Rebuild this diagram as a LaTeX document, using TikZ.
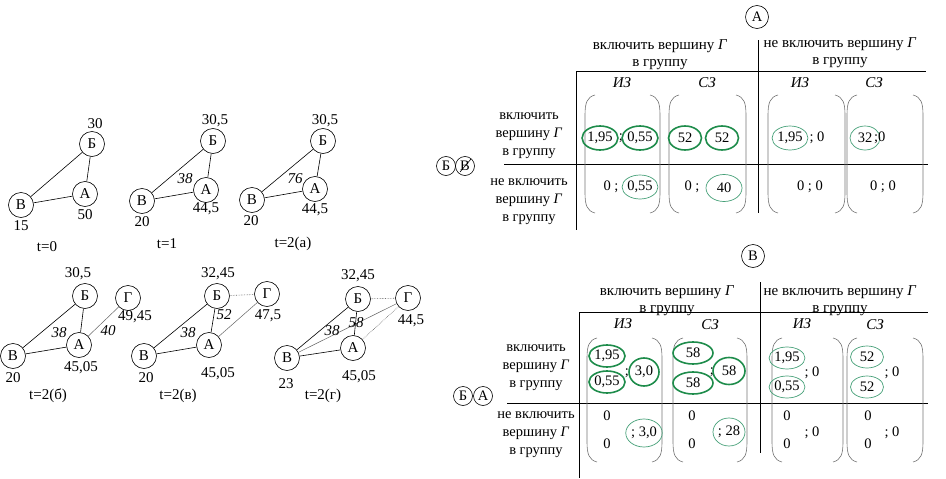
\documentclass[tikz,border=0pt]{standalone}
\usepackage{fontspec}
\setmainfont{Liberation Serif}
\usetikzlibrary{shapes.geometric}
\definecolor{gk}{RGB}{30,140,75}
\definecolor{gt}{RGB}{70,160,120}
\newcommand{\pbrk}[4]{%
  \draw[brk] ({#1+10},#3) .. controls ({#1+2},{#3+2}) and (#1,{#3+8}) .. (#1,{#3+20}) -- (#1,{#4-20}) .. controls (#1,{#4-8}) and ({#1+2},{#4-2}) .. ({#1+10},#4);
  \draw[brk] ({#2-10},#3) .. controls ({#2-2},{#3+2}) and (#2,{#3+8}) .. (#2,{#3+20}) -- (#2,{#4-20}) .. controls (#2,{#4-8}) and ({#2-2},{#4-2}) .. ({#2-10},#4);
}
\begin{document}
\begin{tikzpicture}[x=1pt,y=-1pt,
  every node/.style={font=\fontsize{14.5}{17}\selectfont, inner sep=0pt},
  gn/.style={font=\fontsize{15}{17}\selectfont},
  gv/.style={circle,draw,line width=0.6pt,minimum size=25pt,inner sep=0pt,font=\fontsize{15}{17}\selectfont},
  sv/.style={circle,draw,line width=0.6pt,minimum size=19pt,inner sep=0pt},
  ed/.style={line width=0.6pt},
  ed2/.style={line width=0.5pt,black!60},
  edd/.style={line width=0.6pt,black!60,densely dotted},
  el/.style={font=\itshape\fontsize{15}{17}\selectfont},
  rl/.style={align=center,font=\fontsize{14.5}{18}\selectfont},
  hl/.style={align=center,font=\fontsize{15}{17}\selectfont},
  ek/.style={ellipse,draw=gk,line width=1.6pt,minimum width=33pt,minimum height=24pt,inner sep=0pt},
  et/.style={ellipse,draw=gt,line width=0.7pt,minimum width=33pt,minimum height=24pt,inner sep=0pt},
  brk/.style={draw=black!55,line width=0.6pt},
  ml/.style={line width=0.8pt}
]
\useasboundingbox (0,0) rectangle (946,479);

% ---------- t=0
\node[gv] (b0) at (92,144) {Б};
\node[gv] (a0) at (85,194) {А};
\node[gv] (v0) at (21,205) {В};
\draw[ed] (b0) -- (a0); \draw[ed] (b0) -- (v0); \draw[ed] (v0) -- (a0);
\node[gn] (b0l) at (95,124) {30};
\node[gn] (a0l) at (85,215) {50};
\node[gn] (v0l) at (21,226) {15};
\node[gn] (t0) at (47,247) {t=0};

% ---------- t=1
\node[gv] (b1) at (213,141) {Б};
\node[gv] (a1) at (206,190) {А};
\node[gv] (v1) at (142,201) {В};
\draw[ed] (b1) -- (a1); \draw[ed] (b1) -- (v1); \draw[ed] (v1) -- (a1);
\node[gn] (b1l) at (215,121) {30,5};
\node[el] (e1) at (185,179) {38};
\node[gn] (a1l) at (206,209) {44,5};
\node[gn] (v1l) at (142,222) {20};
\node[gn] (t1) at (167,244) {t=1};

% ---------- t=2(a)
\node[gv] (b2) at (323,141) {Б};
\node[gv] (a2) at (315,189) {А};
\node[gv] (v2) at (252,200) {В};
\draw[ed] (b2) -- (a2); \draw[ed] (b2) -- (v2); \draw[ed] (v2) -- (a2);
\node[gn] (b2l) at (325,121) {30,5};
\node[el] (e2) at (295,179) {76};
\node[gn] (a2l) at (315,210) {44,5};
\node[gn] (v2l) at (251,221) {20};
\node[gn] (t2) at (293,244) {t=2(а)};

% ---------- t=2(б)
\node[gv] (b3) at (85,296) {Б};
\node[gv] (g3) at (128,298) {Г};
\node[gv] (a3) at (79,345) {А};
\node[gv] (v3) at (13,356) {В};
\draw[ed] (b3) -- (a3); \draw[ed] (b3) -- (v3); \draw[ed] (v3) -- (a3);
\draw[ed2] (a3) -- (g3);
\node[gn] (b3l) at (78,274) {30,5};
\node[gn] (g3l) at (135,317) {49,45};
\node[el] (e3) at (59,333) {38};
\node[el] (e3b) at (108,331) {40};
\node[gn] (a3l) at (81,368) {45,05};
\node[gn] (v3l) at (13,378) {20};
\node[gn] (t3) at (48,396) {t=2(б)};

% ---------- t=2(в)
\node[gv] (b4) at (217,296) {Б};
\node[gv] (g4) at (267,294) {Г};
\node[gv] (a4) at (209,345) {А};
\node[gv] (v4) at (144,356) {В};
\draw[ed] (b4) -- (a4); \draw[ed] (b4) -- (v4); \draw[ed] (v4) -- (a4);
\draw[edd] (b4) -- (g4); \draw[ed2] (a4) -- (g4);
\node[gn] (b4l) at (218,274) {32,45};
\node[gn] (g4l) at (268,316) {47,5};
\node[el] (e4b) at (224,315) {52};
\node[el] (e4) at (188,333) {38};
\node[gn] (a4l) at (218,374) {45,05};
\node[gn] (v4l) at (146,378) {20};
\node[gn] (t4) at (178,396) {t=2(в)};

% ---------- t=2(г)
\node[gv] (b5) at (358,299) {Б};
\node[gv] (g5) at (408,298) {Г};
\node[gv] (a5) at (353,348) {А};
\node[gv] (v5) at (287,358) {В};
\draw[ed] (b5) -- (a5); \draw[ed] (b5) -- (v5); \draw[ed] (v5) -- (a5);
\draw[edd] (b5) -- (g5); \draw[edd] (a5) -- (g5); \draw[ed2] (v5) -- (g5);
\node[gn] (b5l) at (358,276) {32,45};
\node[gn] (g5l) at (411,321) {44,5};
\node[el] (e5b) at (356,323) {58};
\node[el] (e5) at (332,331) {38};
\node[gn] (a5l) at (359,377) {45,05};
\node[gn] (v5l) at (286,384) {23};
\node[gn] (t5) at (323,396) {t=2(г)};

% ================= top matrix
\node[sv,minimum size=23pt] (mA) at (757,17) {А};
\node[hl] (h1) at (660,55) {включить вершину \textit{Г}\\в группу};
\node[hl] (h2) at (840,53) {не включить вершину \textit{Г}\\в группу};
\draw[ml] (758,40) -- (758,213);
\draw[ml] (576,71) -- (926,71);
\draw[ml] (576,71) -- (576,230);
\draw[ml] (504,164) -- (928,164);
\node[el] (c1) at (622,83) {ИЗ};
\node[el] (c2) at (707,83) {СЗ};
\node[el] (c3) at (800,83) {ИЗ};
\node[el] (c4) at (874,83) {СЗ};
\node[rl] (r1) at (529,136) {включить\\вершину \textit{Г}\\в группу};
\node[rl] (r2) at (529,202) {не включить\\вершину \textit{Г}\\в группу};
\node[sv] (s1) at (446,166) {Б};
\node[sv] (s2) at (465,166) {В};
\draw[line width=0.6pt] ([shift={(-5,6)}]s2.center) -- ([shift={(6,-7)}]s2.center);
\pbrk{585}{660}{95}{213}
\pbrk{669}{746}{95}{213}
\pbrk{768}{845}{95}{213}
\pbrk{847}{923}{95}{213}
% row 1
\node[ek] (x1) at (600,138) {1,95};
\node (x2) at (621,138) {;};
\node[ek] (x3) at (640,138) {0,55};
\node[ek] (x4) at (685,138) {52};
\node[ek] (x5) at (722,138) {52};
\node[et] (x6) at (790,138) {1,95};
\node (x7) at (817,138) {; 0};
\node[et,minimum width=30pt] (x8) at (865,138) {32};
\node[anchor=west] (x9) at (874,138) {;0};
% row 2
\node (y1) at (611,187) {0 ;};
\node[et] (y2) at (640,187) {0,55};
\node (y3) at (692,187) {0 ;};
\node[et,minimum width=36pt,minimum height=27pt] (y4) at (724,188) {40};
\node (y5) at (810,187) {0 ; 0};
\node (y6) at (883,187) {0 ; 0};

% ================= bottom matrix
\node[sv,minimum size=23pt] (mB) at (753,256) {В};
\node[hl] (h3) at (667,301) {включить вершину \textit{Г}\\в группу};
\node[hl] (h4) at (840,301) {не включить вершину \textit{Г}\\в группу};
\draw[ml] (760,282) -- (760,453);
\draw[ml] (579,312) -- (928,312);
\draw[ml] (579,312) -- (579,478);
\draw[ml] (507,403) -- (928,403);
\node[el] (d1) at (623,324) {ИЗ};
\node[el] (d2) at (710,325) {СЗ};
\node[el] (d3) at (802,324) {ИЗ};
\node[el] (d4) at (875,325) {СЗ};
\node[rl] (r3) at (536,368) {включить\\вершину \textit{Г}\\в группу};
\node[rl] (r4) at (536,435) {не включить\\вершину \textit{Г}\\в группу};
\node[sv] (s3) at (463,396) {Б};
\node[sv] (s4) at (483,396) {А};
\pbrk{587}{662}{338}{462}
\pbrk{673}{747}{338}{462}
\pbrk{772}{843}{338}{462}
\pbrk{847}{923}{338}{462}
% row 1
\node[ek,minimum width=36pt,minimum height=22pt] (z1) at (607,356) {1,95};
\node[ek,minimum width=36pt,minimum height=22pt] (z2) at (607,382) {0,55};
\node (z3) at (627,373) {;};
\node[ek,minimum width=30pt,minimum height=28pt] (z4) at (644,372) {3,0};
\node[ek,minimum width=40pt,minimum height=22pt] (z5) at (693,353) {58};
\node[ek,minimum width=40pt,minimum height=22pt] (z6) at (693,383) {58};
\node (z7) at (712,372) {;};
\node[ek,minimum width=32pt,minimum height=27pt] (z8) at (729,371) {58};
\node[et,minimum width=28pt,minimum height=22pt] (z9) at (787,358) {1,95};
\node[et,minimum width=28pt,minimum height=22pt] (z10) at (787,387) {0,55};
\node (z11) at (812,373) {; 0};
\node[et,minimum width=33pt,minimum height=22pt] (z12) at (867,357) {52};
\node[et,minimum width=33pt,minimum height=22pt] (z13) at (867,387) {52};
\node (z14) at (892,373) {; 0};
% row 2
\node (w1) at (607,416) {0};
\node (w2) at (607,444) {0};
\node[et,minimum width=32pt,minimum height=28pt] (w3) at (644,433) {; 3,0};
\node (w4) at (692,416) {0};
\node (w5) at (692,444) {0};
\node[et,minimum width=32pt,minimum height=28pt] (w6) at (729,432) {; 28};
\node (w7) at (787,416) {0};
\node (w8) at (787,444) {0};
\node (w9) at (812,433) {; 0};
\node (w10) at (868,416) {0};
\node (w11) at (868,444) {0};
\node (w12) at (892,433) {; 0};
\end{tikzpicture}
\end{document}
